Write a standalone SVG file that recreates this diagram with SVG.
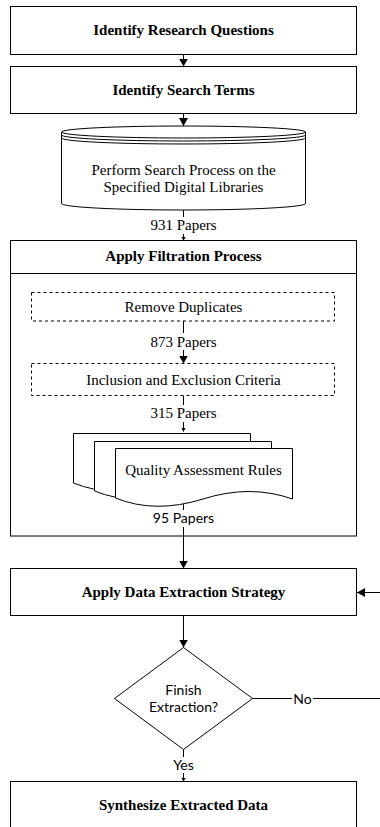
<svg xmlns="http://www.w3.org/2000/svg" width="380" height="827" viewBox="0 0 380 827">
<defs>
<marker id="arr" markerUnits="userSpaceOnUse" viewBox="0 0 8 9" refX="8" refY="4.5" markerWidth="8" markerHeight="9" orient="auto"><path d="M0,0 L8,4.5 L0,9 Z" fill="#000"/></marker>
<marker id="arrs" markerUnits="userSpaceOnUse" viewBox="0 0 4 5" refX="4" refY="2.5" markerWidth="4" markerHeight="5" orient="auto"><path d="M0,0 L4,2.5 L0,5 Z" fill="#000"/></marker>
</defs>
<style>
.box{fill:#fff;stroke:#000;stroke-width:1}
.dash{fill:#fff;stroke:#000;stroke-width:1;stroke-dasharray:3 3}
.b{font-family:"Liberation Serif","Times New Roman",serif;font-weight:bold;font-size:15px;text-anchor:middle;fill:#000}
.r{font-family:"Liberation Serif","Times New Roman",serif;font-size:15px;text-anchor:middle;fill:#000}
.s{font-family:Lato,"Noto Sans",sans-serif;font-size:14px;text-anchor:middle;fill:#000}
.ln{fill:none;stroke:#000;stroke-width:1}
.lbl{fill:#fff}
</style>
<rect width="380" height="827" fill="#fff"/>
<g id="connectors">
<path class="ln" d="M183.5,54.5 V66.5" marker-end="url(#arr)"/>
<path class="ln" d="M183.5,113.5 V126" marker-end="url(#arr)"/>
<path class="ln" d="M183.5,210 V240.5" marker-end="url(#arrs)"/>
<rect class="lbl" x="149" y="217" width="69" height="17"/>
<text class="r" x="183.5" y="230">931 Papers</text>
<path class="ln" d="M183.5,321 V363.5" marker-end="url(#arr)"/>
<rect class="lbl" x="149" y="333" width="69" height="17"/>
<text class="r" x="183.5" y="347">873 Papers</text>
<path class="ln" d="M183.5,395.5 V431.5" marker-end="url(#arrs)"/>
<rect class="lbl" x="149" y="405" width="69" height="17"/>
<text class="r" x="183.5" y="418">315 Papers</text>
<path class="ln" d="M183.5,504 V568.5" marker-end="url(#arr)"/>
<rect class="lbl" x="152" y="510" width="63" height="17"/>
<text class="s" x="183.5" y="523">95 Papers</text>
<path class="ln" d="M183.5,615.5 V647.5" marker-end="url(#arr)"/>
<path class="ln" d="M252.5,698.5 H382 V592.5 H357" marker-end="url(#arr)"/>
<rect class="lbl" x="292" y="691" width="21" height="15"/>
<text class="s" x="302.5" y="703.5">No</text>
<path class="ln" d="M183.5,749.5 V781.5" marker-end="url(#arrs)"/>
<rect class="lbl" x="172" y="757" width="23" height="16"/>
<text class="s" x="183.5" y="770">Yes</text>
</g>
<g id="n1">
<rect class="box" x="10.5" y="6.5" width="346" height="48"/>
<text class="b" x="183.5" y="35">Identify Research Questions</text>
</g>
<g id="n2">
<rect class="box" x="10.5" y="66.5" width="346" height="47"/>
<text class="b" x="183.5" y="95">Identify Search Terms</text>
</g>
<g id="n3">
<path class="box" d="M61.5,132 A122,6 0 0 1 305.5,132 V203.5 A122,6.5 0 0 1 61.5,203.5 Z"/>
<path class="ln" d="M61.5,132 A122,6 0 0 0 305.5,132 M61.5,135 A122,6 0 0 0 305.5,135 M61.5,138 A122,6 0 0 0 305.5,138"/>
<text class="r" x="183.5" y="175">Perform Search Process on the</text>
<text class="r" x="183.5" y="192">Specified Digital Libraries</text>
</g>
<g id="n4">
<rect class="box" x="10.5" y="240.5" width="346" height="295.5" fill="none" style="fill:none"/>
<line class="ln" x1="10.5" y1="273.5" x2="356.5" y2="273.5"/>
<text class="b" x="183.5" y="261">Apply Filtration Process</text>
</g>
<g id="n5">
<rect class="dash" x="31.5" y="292.5" width="303" height="28.5"/>
<text class="r" x="183.5" y="312">Remove Duplicates</text>
</g>
<g id="n6">
<rect class="dash" x="31.5" y="363.5" width="303" height="32"/>
<text class="r" x="183.5" y="385">Inclusion and Exclusion Criteria</text>
</g>
<g id="n7">
<path class="box" transform="translate(-42,-15)" d="M115.5,448.5 H292.5 V499 Q250,484 203,499 Q155,514 115.5,498 Z"/>
<path class="box" transform="translate(-21,-7)" d="M115.5,448.5 H292.5 V499 Q250,484 203,499 Q155,514 115.5,498 Z"/>
<path class="box" d="M115.5,448.5 H292.5 V499 Q250,484 203,499 Q155,514 115.5,498 Z"/>
<text class="r" x="203.5" y="475">Quality Assessment Rules</text>
</g>
<g id="n8">
<rect class="box" x="10.5" y="568.5" width="346" height="47"/>
<text class="b" x="183.5" y="597">Apply Data Extraction Strategy</text>
</g>
<g id="n9">
<polygon class="box" points="183.5,647.5 252.5,698.5 183.5,749.5 114.5,698.5"/>
<text class="s" x="183.5" y="695">Finish</text>
<text class="s" x="183.5" y="712">Extraction?</text>
</g>
<g id="n10">
<rect class="box" x="10.5" y="781.5" width="346" height="60"/>
<text class="b" x="183.5" y="810">Synthesize Extracted Data</text>
</g>
</svg>
